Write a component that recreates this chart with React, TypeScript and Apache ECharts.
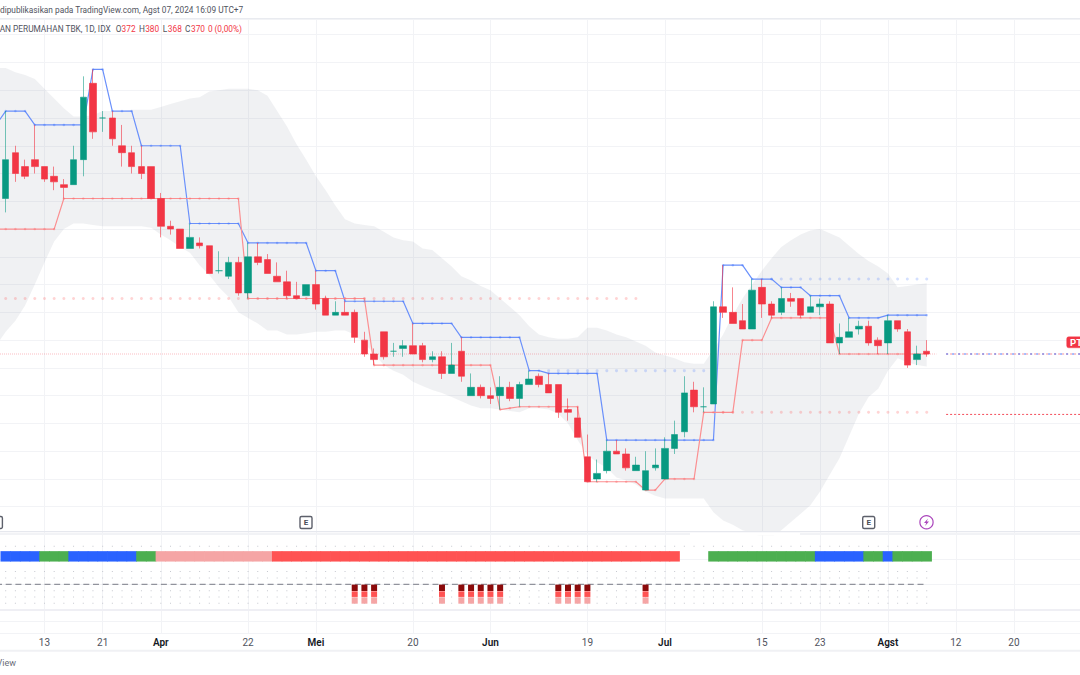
import React, { useEffect, useRef } from "react";
import * as echarts from "echarts";

// Candles, oldest first (last one is O372 H380 L368 C370)
const opens = [482,515,505,510,505,498,492,492,510,565,540,540,520,515,505,505,482,462,460,446,450,448,430,426,436,414,440,438,426,422,412,412,420,410,398,400,400,380,370,386,372,374,376,376,366,368,356,372,340,346,340,340,346,338,348,354,348,348,330,324,296,280,286,300,298,286,272,288,280,302,314,344,332,334,404,400,394,388,418,406,400,410,410,400,404,406,378,382,388,390,380,378,394,386,366,372];
const closes = [510,500,498,505,496,494,490,510,555,530,540,525,515,505,500,482,462,460,446,454,448,428,430,436,414,440,436,428,422,412,410,420,406,398,400,398,382,370,366,368,372,376,370,366,368,356,362,354,346,340,338,346,338,348,352,348,342,328,328,310,278,284,300,298,288,290,286,290,302,312,342,332,332,404,400,392,388,416,406,398,410,408,398,404,406,378,382,386,390,378,376,394,388,362,370,370];
const lows = [472,494,496,500,494,488,482,492,498,525,530,520,505,500,496,482,454,456,446,446,446,428,428,424,412,410,434,428,422,410,410,412,402,398,398,398,378,368,362,366,368,368,370,364,364,352,356,350,340,338,334,330,336,332,348,346,342,324,322,310,278,278,284,298,286,286,272,286,280,298,310,328,328,334,396,392,388,388,396,396,398,404,396,400,398,378,370,382,384,376,370,370,386,360,362,368];
const highs = [545,520,510,535,505,505,496,520,570,575,545,545,535,520,520,505,486,466,460,464,454,448,444,440,440,450,450,442,436,430,422,420,430,412,408,408,402,386,374,386,378,380,392,378,372,372,378,382,356,348,346,354,350,350,358,356,356,348,338,332,312,294,308,308,302,296,300,302,310,322,354,350,346,408,434,418,406,424,424,408,418,414,410,412,410,408,392,396,394,394,382,398,394,388,376,380];

// Channel lines and band; these start one session before the first candle
const blueLine = [535,545,545,545,535,535,535,535,535,535,575,575,545,545,545,520,520,520,520,520,464,464,464,464,464,464,450,450,450,450,450,450,450,430,430,430,408,408,408,408,408,408,408,392,392,392,392,392,382,382,382,382,382,382,382,358,358,356,356,356,356,356,356,308,308,308,308,308,308,308,308,308,308,308,308,434,434,434,424,424,424,418,418,418,412,412,412,412,396,396,396,396,398,398,398,398,398];
const redLine = [460,460,460,460,460,460,460,482,482,482,482,482,482,482,482,482,482,482,482,482,482,482,482,482,482,482,410,410,410,410,410,410,410,410,410,410,410,410,410,362,362,362,362,362,362,362,362,362,362,362,362,362,330,331,332,332,332,332,332,332,332,278,278,278,278,278,278,272,272,280,280,280,280,328,328,328,328,380,380,380,396,396,396,396,396,396,396,370,370,370,370,370,370,370,370,370,370];
const bandUpper = [576,576,573,571,568,561,554,547,541,541,542,545,545,545,546,546,546,548,550,552,554,555,559,560,561,561,561,560,556,545,534,521,510,498,488,477,467,464,463,462,458,454,452,451,446,445,439,433,426,423,419,416,410,404,398,390,384,382,381,381,382,389,389,387,384,382,379,376,371,369,367,364,363,363,373,384,398,410,420,430,439,447,452,456,459,460,457,454,448,442,437,433,428,418,419,420,421];
const bandLower = [376,386,394,405,420,436,451,460,464,464,463,462,462,462,462,462,461,456,452,447,443,434,427,418,411,400,396,392,387,387,384,384,385,386,386,387,387,384,378,370,362,358,355,350,347,344,342,339,336,333,331,331,330,329,328,331,331,330,327,320,308,297,292,288,281,279,276,271,268,266,266,266,266,266,256,250,247,243,241,238,238,243,249,255,261,271,283,295,311,327,339,345,358,367,364,362,361];

// Short-lived pale dotted levels: [price, first session, last session]
const dottedRed = [[410, 0, 65], [328, 74, 95]];
const dottedBlue = [[358, 56, 72], [424, 79, 95]];
const lastPrice = 370;
const lowerLevel = 326.5;

// Time axis: session number -> tick label
const tickSessions = [4, 10, 16, 25, 32, 42, 50, 60, 68, 78, 84, 91, 98, 104];
const tickLabels = ["13", "21", "Apr", "22", "Mei", "20", "Jun", "19", "Jul", "15", "23", "Agst", "12", "20"];
const monthLabels = ["Apr", "Mei", "Jun", "Jul", "Agst"];
const lastSlot = 111;

// Lower pane
const stripRuns: [string, number][] = [["blue",4],["green",3],["blue",7],["green",2],["pink",12],["red",42],["none",3],["green",11],["blue",5],["green",2],["blue",1],["green",4]];
const alertSessions = [36,37,38,45,47,48,49,50,51,57,58,59,60,66];
const dotLevels = [6, 2, 1, -1, -2, -3];
const stripColors: Record<string, string> = { blue: "#2962ff", green: "#4caf50", pink: "#f5a5a5", red: "#ff5252" };

const UP = "#089981";
const DOWN = "#f23645";
const GRID = "#f2f3f6";

const categories: string[] = [];
for (let s = -1; s <= lastSlot; s++) {
  const k = tickSessions.indexOf(s);
  categories.push(k >= 0 ? tickLabels[k] : "");
}
const hasLabel = (_: number, v: string) => v !== "";
const slot = (s: number) => s + 1;
const sessions = opens.map((_, i) => i);

function level(price: number, from: number, to: number) {
  const out: [number, number][] = [];
  for (let s = from; s <= to; s++) out.push([slot(s), price]);
  return out;
}
function xAxis(gridIndex: number, labels: boolean) {
  return {
    type: "category", gridIndex, data: categories, boundaryGap: false,
    axisLine: { show: false }, axisTick: { show: false },
    splitLine: { show: true, interval: hasLabel, lineStyle: { color: GRID, width: 1 } },
    axisLabel: labels ? {
      show: true, interval: hasLabel, margin: 4, hideOverlap: false,
      formatter: (v: string) => (monthLabels.includes(v) ? `{m|${v}}` : `{d|${v}}`),
      rich: {
        d: { fontFamily: "Roboto", fontSize: 10, color: "#50535e" },
        m: { fontFamily: "Roboto", fontSize: 10, fontWeight: 600, color: "#131722" },
      },
    } : { show: false },
  };
}
function yAxis(gridIndex: number, min: number, max: number, interval: number) {
  return {
    type: "value", gridIndex, min, max, interval, scale: true,
    axisLine: { show: false }, axisTick: { show: false }, axisLabel: { show: false },
    splitLine: { show: true, lineStyle: { color: GRID, width: 1 } },
  };
}
function hline(y: number, color: string, width = 1) {
  return { type: "line", z: 100, silent: true, shape: { x1: 0, y1: y, x2: 1080, y2: y }, style: { stroke: color, lineWidth: width } };
}
function txt(x: number, y: number, text: string, color: string, align = "left", size = 8.3) {
  return {
    type: "text", z: 101, silent: true, x, y,
    style: { text, fill: color, font: `${size}px Roboto`, textAlign: align, textVerticalAlign: "middle" },
  };
}
function earnings(x: number) {
  return {
    type: "group", z: 101, silent: true, children: [
      { type: "rect", z: 101, shape: { x: x - 6, y: 516.5, width: 12, height: 12, r: 1.5 }, style: { fill: "#fff", stroke: "#5d606b", lineWidth: 1.4 } },
      { type: "text", z: 102, x, y: 522.5, style: { text: "E", fill: "#4a4d57", font: "bold 8px Roboto", textAlign: "center", textVerticalAlign: "middle" } },
    ],
  };
}

const stripStates: string[] = [];
stripRuns.forEach(([state, n]) => { for (let k = 0; k < n; k++) stripStates.push(state); });

const gridBox = { left: -4, width: 1085.84, show: false, outerBoundsMode: "none" };

export default function App() {
  const ref = useRef<HTMLDivElement>(null);
  useEffect(() => {
    const chart = echarts.init(ref.current!, undefined, { renderer: "svg" });
    const dotRows = dotLevels.flatMap((lv) => sessions.map((s) => [slot(s), lv]));
    const option = {
      animation: false,
      backgroundColor: "#ffffff",
      tooltip: { show: false },
      grid: [
        { ...gridBox, top: 19, height: 515.5 },
        { ...gridBox, top: 533.5, height: 76.2 },
        { ...gridBox, top: 610, height: 23.4 },
      ],
      xAxis: [xAxis(0, false), xAxis(1, false), xAxis(2, true)],
      yAxis: [yAxis(0, 240, 611.3, 20), yAxis(1, -4, 8, 4), yAxis(2, 0, 2, 1)],
      series: [
        {
          type: "line", name: "lower", data: bandLower, stack: "band", symbol: "none", z: 1,
          lineStyle: { opacity: 0 }, silent: true,
        },
        {
          type: "line", name: "band", data: bandUpper.map((u, i) => u - bandLower[i]), stack: "band", symbol: "none", z: 1,
          lineStyle: { opacity: 0 }, silent: true,
          areaStyle: { color: "rgba(120,128,146,0.115)", opacity: 1 },
        },
        {
          type: "line", name: "last price", data: level(lastPrice, -1, 96), symbol: "none", z: 1, silent: true,
          lineStyle: { color: "rgba(242,54,69,0.32)", width: 1, type: [1, 1] },
        },
        {
          type: "line", name: "last price right", data: level(lastPrice, 97, lastSlot), symbol: "none", z: 2, silent: true,
          lineStyle: { color: "rgba(242,54,69,0.55)", width: 1, type: [2, 2] },
        },
        {
          type: "line", name: "last price blue", data: level(lastPrice, 97, lastSlot), symbol: "none", z: 2, silent: true,
          lineStyle: { color: "rgba(41,98,255,0.85)", width: 1, type: [2, 4] },
        },
        {
          type: "line", name: "lower level", data: level(lowerLevel, 97, lastSlot), symbol: "none", z: 2, silent: true,
          lineStyle: { color: "rgba(242,54,69,0.9)", width: 1, type: [2, 2] },
        },
        ...dottedRed.map(([p, a, b]) => ({
          type: "scatter", name: "dots red", data: level(p, a, b), symbol: "circle", symbolSize: 3, z: 1, silent: true,
          itemStyle: { color: "rgba(255,82,82,0.25)", opacity: 1 },
        })),
        ...dottedBlue.map(([p, a, b]) => ({
          type: "scatter", name: "dots blue", data: level(p, a, b), symbol: "circle", symbolSize: 3, z: 1, silent: true,
          itemStyle: { color: "rgba(41,98,255,0.2)", opacity: 1 },
        })),
        {
          type: "line", name: "upper channel", data: blueLine, symbol: "circle", symbolSize: 2.5, showAllSymbol: true, z: 2, silent: true,
          lineStyle: { color: "#6a90fb", width: 1.2 }, itemStyle: { color: "rgba(41,98,255,0.3)" },
        },
        {
          type: "line", name: "lower channel", data: redLine, symbol: "circle", symbolSize: 2.5, showAllSymbol: true, z: 2, silent: true,
          lineStyle: { color: "#fb8f91", width: 1.2 }, itemStyle: { color: "rgba(255,82,82,0.3)" },
        },
        {
          type: "candlestick", name: "price", z: 3, silent: true, barWidth: 7,
          data: ["-", ...opens.map((o, i) => [o, closes[i], lows[i], highs[i]])],
          itemStyle: { color: UP, color0: DOWN, borderColor: "rgba(8,153,129,0.55)", borderColor0: "rgba(242,54,69,0.6)", borderWidth: 1 },
        },
        // lower pane
        {
          type: "scatter", name: "dot rows", xAxisIndex: 1, yAxisIndex: 1, data: dotRows, symbol: "rect", symbolSize: 1, z: 2, silent: true,
          itemStyle: { color: "#c6c8cf", opacity: 1 },
        },
        {
          type: "line", name: "zero", xAxisIndex: 1, yAxisIndex: 1, data: level(0, -1, 95), symbol: "none", z: 3, silent: true,
          lineStyle: { color: "#787b86", width: 1, type: [6, 3.7] },
        },
        {
          type: "scatter", name: "state", xAxisIndex: 1, yAxisIndex: 1, symbol: "rect", symbolSize: [10.4, 10.4], z: 4, silent: true,
          data: stripStates.map((st, i) => (st === "none" ? null : {
            value: [slot(i), 4.4], itemStyle: { color: stripColors[st], opacity: 1 },
          })).filter(Boolean),
        },
        ...[[-0.55, "#8b0a0a", 6.4], [-1.55, "#ff5252", 5.6], [-2.55, "#f5a5a5", 6.4]].map(([lv, color, h]) => ({
          type: "scatter", name: "alert", xAxisIndex: 1, yAxisIndex: 1, symbol: "rect", symbolSize: [6, h as number], z: 5, silent: true,
          data: alertSessions.map((s) => [slot(s), lv]),
          itemStyle: { color: color as string, opacity: 1 },
        })),
        {
          type: "scatter", name: "time", xAxisIndex: 2, yAxisIndex: 2, data: [], symbolSize: 0, silent: true,
        },
      ],
      graphic: { elements: [
        { type: "rect", z: 99, silent: true, shape: { x: 690, y: 532, width: 110, height: 3.5 }, style: { fill: "#ffffff" } },
        { type: "rect", z: 99, silent: true, shape: { x: 0, y: 0, width: 1080, height: 18 }, style: { fill: "#ffffff" } },
        { type: "rect", z: 99, silent: true, shape: { x: 0, y: 651, width: 1080, height: 24 }, style: { fill: "#ffffff" } },
        hline(18.5, "#e9ebf0"),
        hline(531.7, "#e6e8ee", 1.2),
        hline(610, "#ececf2", 1.2),
        hline(650.7, "#f0f1f4", 2),
        txt(0, 10.3, "dipublikasikan pada TradingView.com, Agst 07, 2024 16:09 UTC+7", "#50535e"),
        txt(110.7, 29, "NAN PERUMAHAN TBK, 1D, IDX", "#50535e", "right"),
        txt(115.7, 29, "O", "#50535e"), txt(121.6, 29, "372", DOWN),
        txt(139, 29, "H", "#50535e"), txt(145.2, 29, "380", DOWN),
        txt(162.7, 29, "L", "#50535e"), txt(167.8, 29, "368", DOWN),
        txt(185, 29, "C", "#50535e"), txt(191, 29, "370", DOWN),
        txt(208, 29, "0", DOWN), txt(214.5, 29, "(0,00%)", DOWN),
        txt(16, 663, "View", "#6a6d78", "right", 9),
        earnings(-3.6), earnings(306), earnings(868.7),
        { type: "circle", z: 101, silent: true, shape: { cx: 926.5, cy: 522.3, r: 6.6 }, style: { fill: "#fff", stroke: "#ab47bc", lineWidth: 1.2 } },
        { type: "polygon", z: 102, silent: true, shape: { points: [[928,518.6],[924,523],[926.2,523],[925.1,526],[929,521.6],[926.7,521.6]] }, style: { fill: "#ab47bc" } },
        { type: "rect", z: 101, silent: true, shape: { x: 1066.7, y: 336.8, width: 20, height: 11, r: 2 }, style: { fill: DOWN, stroke: "rgba(242,54,69,0.4)", lineWidth: 1 } },
        { type: "text", z: 102, silent: true, x: 1070, y: 342.5, style: { text: "PT", fill: "#ffffff", font: "bold 9.6px Roboto", textVerticalAlign: "middle" } },
      ] },
    };
    chart.setOption(option as any);
    return () => chart.dispose();
  }, []);
  return <div ref={ref} style={{ position: "absolute", left: 0, top: 0, width: 1080, height: 675, background: "#fff" }} />;
}
